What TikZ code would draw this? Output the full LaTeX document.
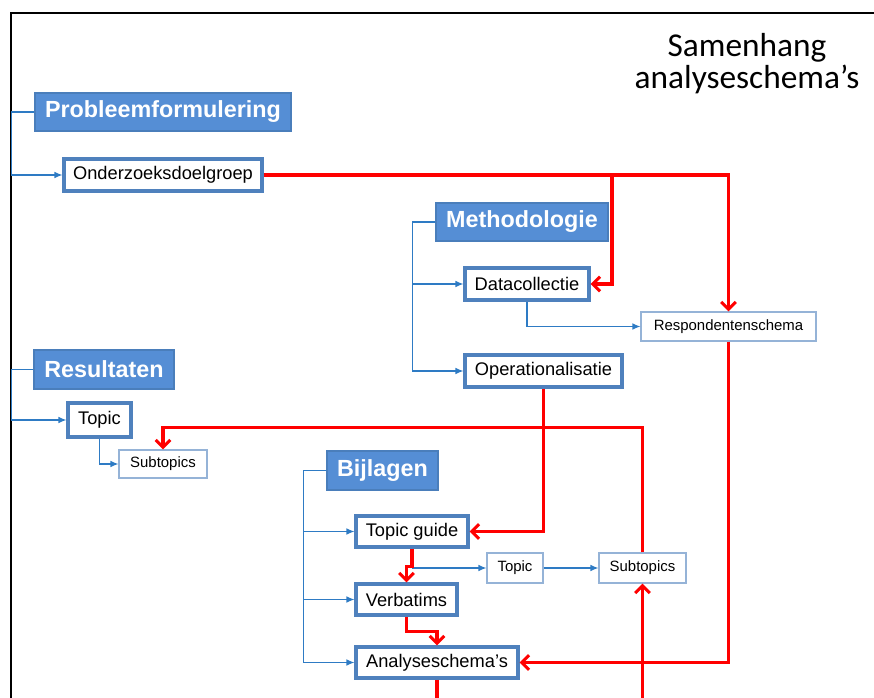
\documentclass[tikz,border=0pt]{standalone}
\usepackage{fontspec}
\setmainfont{Liberation Sans}
\newfontfamily\titlefont{Carlito}
\usepackage{tikz}
\usetikzlibrary{arrows.meta, positioning, calc}

\definecolor{headblue}{HTML}{558ED5}
\definecolor{headedge}{HTML}{4A7EBB}
\definecolor{itemedge}{HTML}{4F81BD}
\definecolor{subedge}{HTML}{95B3D7}
\definecolor{linkblue}{HTML}{2E7BC4}

\tikzset{
  wh/.style 2 args={minimum width=#1*0.75pt, minimum height=#2*0.75pt},
  head/.style={draw=headedge, line width=1pt, fill=headblue, text=white, inner sep=0pt,
    font=\bfseries\fontsize{17.5}{20}\selectfont},
  item/.style={draw=itemedge, line width=2.3pt, fill=white, text=black, inner sep=0pt,
    font=\fontsize{13.7}{16}\selectfont},
  sub/.style={draw=subedge, line width=0.8pt, fill=white, text=black, inner sep=0pt,
    font=\fontsize{11.2}{13}\selectfont},
  link/.style={linkblue, line width=0.9pt, -{Latex[length=6pt,width=5pt]}},
  flow/.style={red, line width=2.3pt, -{Straight Barb[length=5.5pt,width=11pt]}},
}

\begin{document}
\begin{tikzpicture}[x=0.75pt, y=-0.75pt]
  \useasboundingbox (0,0) rectangle (874,698);

  % Kader
  \draw[line width=1.5pt] (11,698) -- (11,13) -- (874,13);

  % Titel
  \node[align=center, font=\titlefont\fontsize{25}{24}\selectfont] (title) at (747,63.5)
    {Samenhang\\analyseschema’s};

  % Hoofdstukken
  \node[head, wh={256}{38}] (prob) at (163,112) {Probleemformulering};
  \node[head, wh={172}{38}] (meth) at (522,222) {Methodologie};
  \node[head, wh={140}{39}] (res) at (104,369.5) {Resultaten};
  \node[head, wh={111}{39}] (bijl) at (382.5,470.5) {Bijlagen};

  % Onderdelen
  \node[item, wh={198}{32}] (doel) at (163,175) {Onderzoeksdoelgroep};
  \node[item, wh={124}{32}] (datacol) at (527,284) {Datacollectie};
  \node[item, wh={157}{32}] (operat) at (543.5,371) {Operationalisatie};
  \node[item, wh={63}{34}] (topicR) at (99.5,420) {Topic};
  \node[item, wh={112}{31}] (guide) at (412,531.5) {Topic guide};
  \node[item, wh={101}{31}] (verbat) at (406.5,599.5) {Verbatims};
  \node[item, wh={162}{31}] (analyse) at (437,662.5) {Analyseschema’s};

  % Kleine onderdelen
  \node[sub, wh={175}{29}] (respond) at (728.5,326.5) {Respondentenschema};
  \node[sub, wh={88}{28}] (subR) at (163,464) {Subtopics};
  \node[sub, wh={56}{30}] (topicB) at (515,568) {Topic};
  \node[sub, wh={87}{30}] (subB) at (642.5,568) {Subtopics};

  \coordinate (split) at (612,175);
  \coordinate (outA) at (437,700);
  \coordinate (inB) at (642.5,700);

  % Structuur (blauw)
  \draw[link] (prob.west) -- ++(-23,0) |- (doel.west);
  \draw[link] (res.west) -- ++(-22,0) |- (topicR.west);
  \draw[link] (meth.west) -- ++(-23,0) |- (datacol.west);
  \draw[link] (meth.west) -- ++(-23,0) |- (operat.west);
  \draw[link] (bijl.west) -- ++(-23,0) |- (guide.west);
  \draw[link] (bijl.west) -- ++(-23,0) |- (verbat.west);
  \draw[link] (bijl.west) -- ++(-23,0) |- (analyse.west);
  \draw[link] (datacol.south) |- (respond.west);
  \draw[link] (topicR.south) |- (subR.west);
  \draw[link] (guide.south |- topicB.west) -- (topicB.west);
  \draw[link] (topicB.east) -- (subB.west);

  % Samenhang (rood)
  \draw[flow] (doel.east) -| (respond.north);
  \draw[flow] (split) |- (datacol.east);
  \draw[flow] (operat.south) |- (guide.east);
  \draw[flow] (respond.south) |- (analyse.east);
  \draw[flow] (subB.north) -- ++(0,-125) -| (subR.north);
  \draw[flow] (guide.south) -- ++(0,18) -| (verbat.north);
  \draw[flow] (verbat.south) -- ++(0,15) -| (analyse.north);
  \draw[red, line width=2.3pt] (analyse.south) -- (outA);
  \draw[flow] (inB) -- (subB.south);
\end{tikzpicture}
\end{document}
